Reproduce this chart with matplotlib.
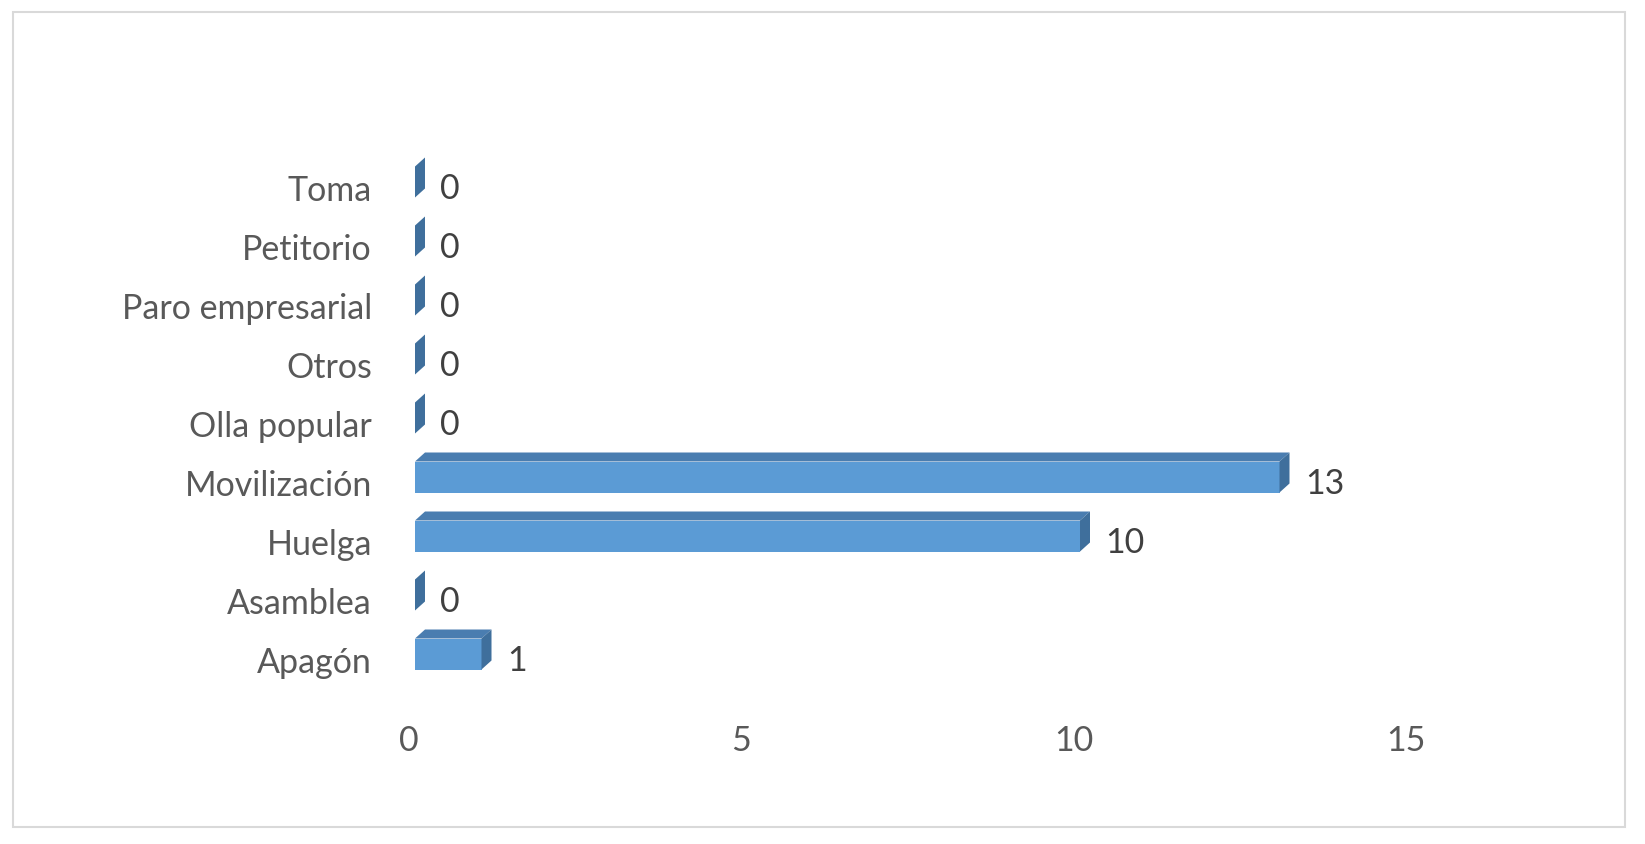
import matplotlib.pyplot as plt
import matplotlib.transforms as mtransforms
from matplotlib.patches import Polygon, Rectangle

plt.rcParams['font.family'] = ['Lato', 'DejaVu Sans']

# Data
categorias = ["Apagón", "Asamblea", "Huelga", "Movilización", "Olla popular",
              "Otros", "Paro empresarial", "Petitorio", "Toma"]
valores = [1, 0, 10, 13, 0, 0, 0, 0, 0]
xticks = [0, 5, 10, 15]

W, H = 1645, 845
fig = plt.figure(figsize=(W / 100, H / 100), dpi=100)

# axes placed in pixels: x=0 at 415px, 66.5 px per unit; row i at 655-59*i px
x0, px_unit = 415, 66.5
xmax = 18
y_top, y_bot = 655 - 59 * 9, 655 + 59
ax = fig.add_axes([x0 / W, 1 - y_bot / H, xmax * px_unit / W, (y_bot - y_top) / H])
ax.set_xlim(0, xmax)
ax.set_ylim(-1, 9)

front = '#5B9BD5'
top = '#4A7DB0'
side = '#3F6F9C'
h = 31 / 59          # front face height
dx = 10 / px_unit    # depth offset
dy = 9 / 59
fs = 24.5

for i, v in enumerate(valores):
    y0, y1 = i - h / 2, i + h / 2
    if v > 0:
        ax.barh(i, v, height=h, color=front, linewidth=0, zorder=2)
        ax.add_patch(Polygon([(0, y1), (v, y1), (v + dx, y1 + dy), (dx, y1 + dy)],
                             closed=True, facecolor=top, edgecolor='none', zorder=2))
    ax.add_patch(Polygon([(v, y0), (v, y1), (v + dx, y1 + dy), (v + dx, y0 + dy)],
                         closed=True, facecolor=side, edgecolor='none', zorder=2))
    ax.annotate(str(v), (v + dx, i), xytext=(11, -2.5), textcoords='offset points',
                ha='left', va='center_baseline', fontsize=fs, color='#404040')

ax.set_yticks(range(len(categorias)))
ax.set_yticklabels(categorias, fontsize=fs, color='#595959')
ax.set_xticks(xticks)
ax.set_xticklabels([str(t) for t in xticks], fontsize=fs, color='#595959')
ax.tick_params(axis='y', length=0, pad=31)
ax.tick_params(axis='x', length=0, pad=8)

# shift labels slightly (pixels -> inches at dpi 100)
ylab_shift = mtransforms.ScaledTranslation(0, -5 / 100, fig.dpi_scale_trans)
for lbl in ax.get_yticklabels():
    lbl.set_transform(lbl.get_transform() + ylab_shift)
xlab_shift = mtransforms.ScaledTranslation(-6.5 / 100, 0, fig.dpi_scale_trans)
for lbl in ax.get_xticklabels():
    lbl.set_transform(lbl.get_transform() + xlab_shift)

for s in ax.spines.values():
    s.set_visible(False)
ax.patch.set_alpha(0)

fig.patches.append(Rectangle((13 / W, 1 - 828 / H), (1625 - 13) / W, (828 - 13) / H,
                             transform=fig.transFigure, fill=False,
                             edgecolor='#D9D9D9', linewidth=1.5))

fig.savefig('out.png', dpi=100)
